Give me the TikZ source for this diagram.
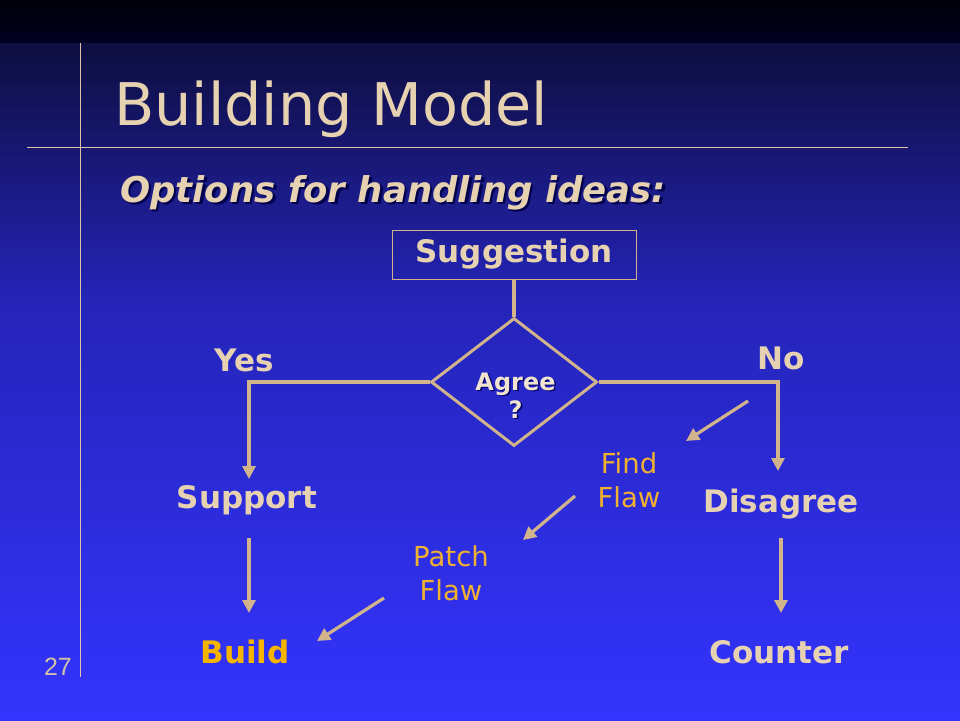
\documentclass[tikz,border=0pt]{standalone}
\usepackage{fontspec}
\setmainfont{DejaVu Sans}
\newfontfamily\numfont{Liberation Sans}
\usetikzlibrary{arrows.meta,shapes.geometric}
\definecolor{beige}{HTML}{E6D2B0}
\definecolor{tan}{HTML}{D2B48C}
\definecolor{gold}{HTML}{F5B400}
\definecolor{orangeT}{HTML}{F0B030}
\definecolor{bgA}{HTML}{000008}
\definecolor{bgB}{HTML}{000022}
\definecolor{bgC}{HTML}{0E0E40}
\definecolor{bgD}{HTML}{2424B8}
\definecolor{bgE}{HTML}{3434FF}
\tikzset{
  conn/.style={draw=tan,line width=3.2pt},
  arr/.style={conn,-{Triangle[width=13pt,length=13pt]}},
  boldlbl/.style={text=beige,font=\fontsize{31}{34}\selectfont\bfseries,inner sep=0pt},
  flawlbl/.style={text=orangeT,font=\fontsize{27.5}{34}\selectfont,align=center,inner sep=0pt},
  rule/.style={draw=tan!80!white,line width=0.8pt}
}
\begin{document}
\begin{tikzpicture}[x=1pt,y=-1pt]
\useasboundingbox (0,0) rectangle (960,720);
% background
\fill[top color=bgA,bottom color=bgB] (0,0) rectangle (960,43);
\fill[top color=bgC,bottom color=bgD] (0,43) rectangle (960,300);
\fill[top color=bgD,bottom color=bgE] (0,300) rectangle (960,720.5);
% rules
\coordinate (vt) at (80,43);
\coordinate (vb) at (80,677);
\coordinate (hl) at (27,147);
\coordinate (hr) at (908,147);
\draw[rule] (vt) -- (vb);
\draw[rule] (hl) -- (hr);
% title
\node[anchor=base west,text=beige,font=\fontsize{58.8}{62}\selectfont,inner sep=0pt] (title) at (114,125) {Building Model};
\node[anchor=base west,text=black!70!blue,font=\fontsize{35.5}{40}\selectfont\bfseries\itshape,inner sep=0pt] (subsh) at (122.5,204.5) {Options for handling ideas:};
\node[anchor=base west,text=beige,font=\fontsize{35.5}{40}\selectfont\bfseries\itshape,inner sep=0pt] (sub) at (120,202) {Options for handling ideas:};
% page number
\node[anchor=base,text=beige!80!gray,font=\numfont\fontsize{25}{26}\selectfont,inner sep=0pt] (pg) at (58,675) {27};
% flowchart
\node[draw=tan,line width=1pt,minimum width=244pt,minimum height=49pt,boldlbl,inner sep=0pt] (sugg) at (514,254.5) {Suggestion};
\node[draw=tan,line width=3pt,diamond,minimum width=166pt,minimum height=128pt,inner sep=0pt] (agree) at (514,382) {};
\node[text=black!60!blue,font=\fontsize{24}{30}\selectfont\bfseries,align=center,inner sep=0pt] at (517,397) {Agree\\[-2pt]?};
\node[text=beige!60!white,font=\fontsize{24}{30}\selectfont\bfseries,align=center,inner sep=0pt] (agreetxt) at (515.5,395.5) {Agree\\[-2pt]?};
\node[boldlbl] (yes) at (244,360) {Yes};
\node[boldlbl] (no) at (781,358) {No};
\node[boldlbl] (support) at (247,500) {Support};
\node[boldlbl] (disagree) at (781,504) {Disagree};
\node[boldlbl,text=gold] (build) at (245,652) {Build};
\node[boldlbl] (counter) at (779,652) {Counter};
\node[flawlbl] (find) at (629,480) {Find\\Flaw};
\node[flawlbl] (patch) at (451,573) {Patch\\Flaw};
% connectors
\coordinate (yc) at (249,382);
\coordinate (nc) at (778,382);
\coordinate (ye) at (249,479);
\coordinate (ne) at (778,471);
\coordinate (bs) at (249,538);
\coordinate (be) at (249,613);
\coordinate (cs) at (781,538);
\coordinate (ce) at (781,613);
\draw[conn] (sugg.south) -- (agree.north);
\draw[arr] (agree.west) -- (yc) -- (ye);
\draw[arr] (agree.east) -- (nc) -- (ne);
\draw[arr] (bs) -- (be);
\draw[arr] (cs) -- (ce);
\coordinate (d1a) at (748,401);
\coordinate (d1b) at (686,441);
\coordinate (d2a) at (575,496);
\coordinate (d2b) at (523,540);
\coordinate (d3a) at (384,598);
\coordinate (d3b) at (317,641);
\draw[arr] (d1a) -- (d1b);
\draw[arr] (d2a) -- (d2b);
\draw[arr] (d3a) -- (d3b);
\end{tikzpicture}
\end{document}
